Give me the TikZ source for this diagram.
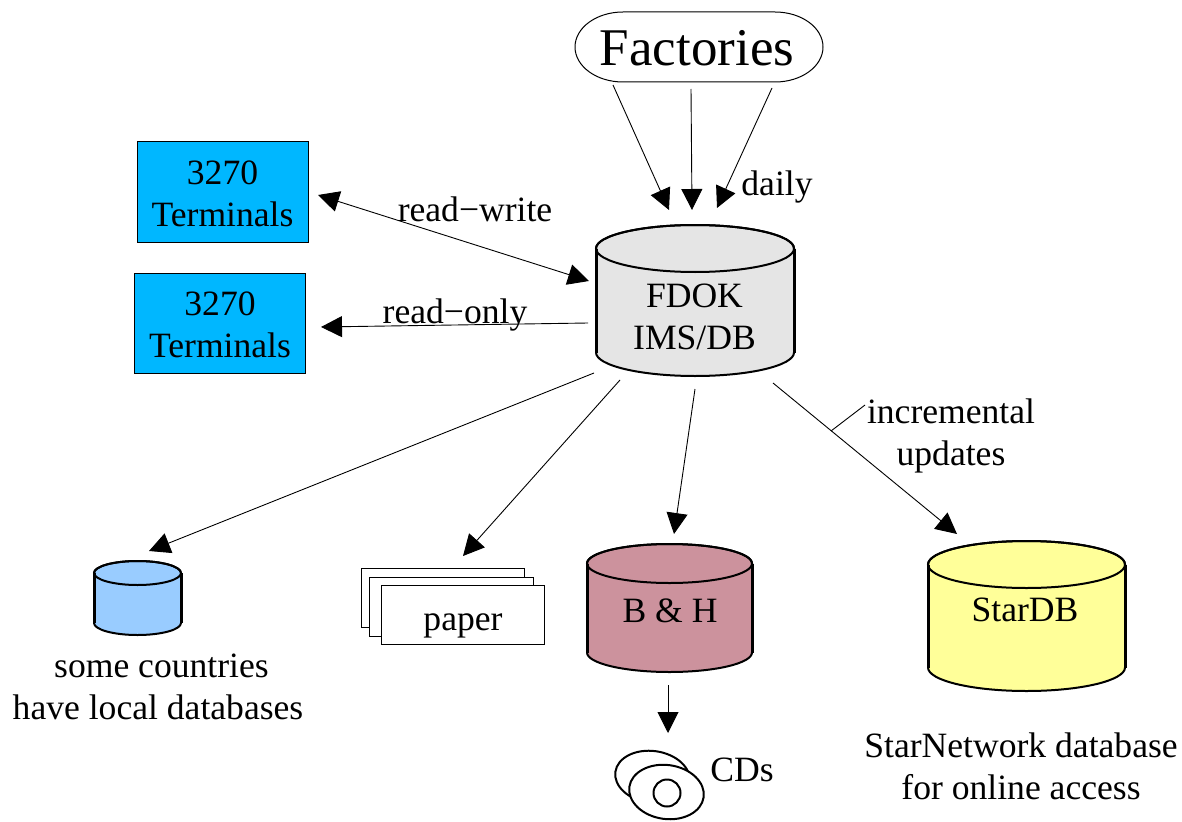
\documentclass[tikz,border=0pt]{standalone}
\usepackage{fontspec}
\setmainfont{Liberation Serif}
\usetikzlibrary{arrows.meta}
\definecolor{termblue}{RGB}{0,183,255}
\definecolor{fdokgray}{RGB}{229,229,229}
\definecolor{bhrose}{RGB}{204,146,157}
\definecolor{staryellow}{RGB}{255,255,153}
\definecolor{localblue}{RGB}{153,204,255}
\tikzset{
  x=1pt,y=-1pt,
  txt/.style={inner sep=0pt,align=center,font=\fontsize{35.6}{42}\selectfont},
  bigtxt/.style={inner sep=0pt,align=center,font=\fontsize{53}{60}\selectfont},
  termbox/.style={draw=black,line width=1pt,fill=termblue,minimum width=171pt,minimum height=100pt,inner sep=0pt},
  sheet/.style={draw=black,line width=1pt,fill=white},
  conn/.style={draw=black,line width=0.9pt,-{Triangle[length=21pt,width=21pt]}},
  both/.style={draw=black,line width=0.9pt,{Triangle[length=21pt,width=21pt]}-{Triangle[length=21pt,width=21pt]}},
  cyl/.style={draw=black,line width=2pt},
  disc/.style={draw=black,line width=2pt,fill=white},
}
% \cylshape{left}{right}{top}{rim bottom}{bottom}{fill}
\newcommand{\cylshape}[6]{%
  \pgfmathsetmacro{\cx}{(#1+#2)/2}\pgfmathsetmacro{\rx}{(#2-#1)/2}%
  \pgfmathsetmacro{\ry}{(#4-#3)/2}\pgfmathsetmacro{\cy}{(#3+#4)/2}%
  \pgfmathsetmacro{\by}{#5-\ry}%
  \path[cyl,fill=#6] (#1,\cy) -- (#1,\by) arc[start angle=180,end angle=360,x radius=\rx,y radius=-\ry] -- (#2,\cy) arc[start angle=0,end angle=180,x radius=\rx,y radius=-\ry] -- cycle;
  \draw[cyl] (\cx,\cy) ellipse[x radius=\rx,y radius=\ry];
  \draw[line width=3pt] (#1,\cy) -- (#1,\by) (#2,\cy) -- (#2,\by);
}
\begin{document}
\begin{tikzpicture}
\useasboundingbox (0,0) rectangle (1182,821);
% Factories
\draw[line width=1pt,fill=white] (623,12) -- (775,12) arc[start angle=90,end angle=-90,x radius=48,y radius=-35] -- (623,82) arc[start angle=270,end angle=90,x radius=48,y radius=-35] -- cycle;
\node[bigtxt] (fact) at (697,48) {Factories};
% Terminals
\node[termbox] (t1) at (222.5,192) {};
\node[txt] (t1l) at (222.5,194) {3270\\Terminals};
\node[termbox] (t2) at (220,323) {};
\node[txt] (t2l) at (220,325) {3270\\Terminals};
% cylinders
\cylshape{596}{794}{225}{272}{376}{fdokgray}
\node[txt] (fdok) at (694.5,316.5) {FDOK\\IMS/DB};
\cylshape{587}{752}{544}{583}{672}{bhrose}
\node[txt] (bh) at (670,611) {B \& H};
\cylshape{928}{1125}{541}{588}{691}{staryellow}
\node[txt] (star) at (1025,610) {StarDB};
\cylshape{94}{181}{561}{585}{635}{localblue}
% paper
\draw[sheet] (361,568) rectangle (524,627);
\draw[sheet] (369,577) rectangle (533,636);
\draw[sheet] (381,585) rectangle (544,644);
\node[txt,anchor=base] (paper) at (463,630) {paper};
% CDs
\draw[disc,rotate around={-8:(652.5,777)}] (652.5,777) ellipse[x radius=37.5,y radius=26];
\draw[disc,rotate around={-8:(666.5,792)}] (666.5,792) ellipse[x radius=37.5,y radius=27];
\draw[line width=2pt] (667,793) circle[radius=13.5];
% labels
\node[txt,anchor=base] (daily) at (777,196) {daily};
\node[txt,anchor=base] (rw) at (475,221) {read−write};
\node[txt,anchor=base] (ro) at (455,323) {read−only};
\node[txt] (inc) at (951,436) {incremental\\updates};
\node[txt] (local) at (158,687) {\hspace*{7pt}some countries\\have local databases};
\node[txt] (starnet) at (1021,766) {StarNetwork database\\for online access};
\node[txt] (cds) at (742,770) {CDs};
% connector ends
\coordinate (f1) at (613,85); \coordinate (f1e) at (669,210);
\coordinate (f2) at (691,89); \coordinate (f2e) at (692,210);
\coordinate (f3) at (772,88); \coordinate (f3e) at (717,208);
\coordinate (rwa) at (318,195); \coordinate (rwb) at (589,281);
\coordinate (roa) at (588,323); \coordinate (rob) at (321,327);
\coordinate (d1) at (594,373); \coordinate (d1e) at (149,551);
\coordinate (d2) at (620,380); \coordinate (d2e) at (463,556);
\coordinate (d3) at (695,389); \coordinate (d3e) at (674,534);
\coordinate (d4) at (773,383); \coordinate (d4e) at (957,534);
\coordinate (c1) at (668,685); \coordinate (c1e) at (668,733);
\coordinate (inca) at (831,431); \coordinate (incb) at (865,405);
\draw[conn] (f1) -- (f1e);
\draw[conn] (f2) -- (f2e);
\draw[conn] (f3) -- (f3e);
\draw[both] (rwa) -- (rwb);
\draw[conn] (roa) -- (rob);
\draw[conn] (d1) -- (d1e);
\draw[conn] (d2) -- (d2e);
\draw[conn] (d3) -- (d3e);
\draw[conn] (d4) -- (d4e);
\draw[conn] (c1) -- (c1e);
\draw[line width=0.9pt] (inca) -- (incb);
\end{tikzpicture}
\end{document}
